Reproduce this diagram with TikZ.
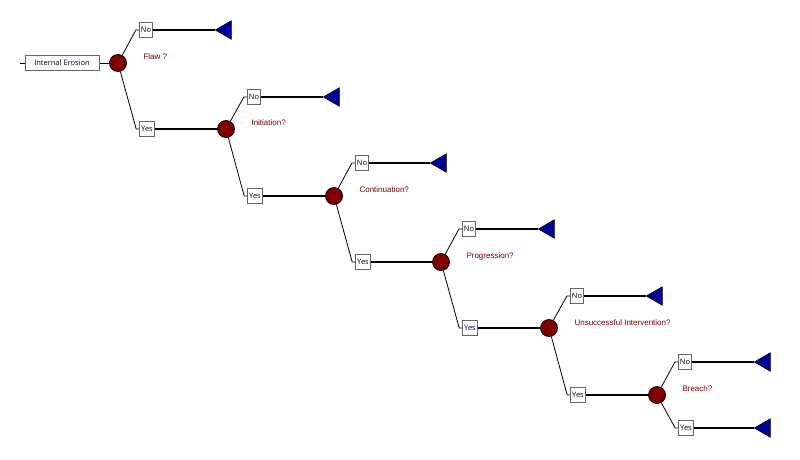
\documentclass[tikz,border=0pt]{standalone}
\usetikzlibrary{shapes.geometric}
\usepackage{fontspec}
\setmainfont{Liberation Sans}
\newfontfamily\boxfont{Open Sans}
\begin{document}
\begin{tikzpicture}[x=1pt,y=-1pt,
  lbl/.style={draw=gray!80!black,line width=1pt,fill=white,inner sep=1.5pt,minimum height=15pt,font=\boxfont\fontsize{7.5}{9}\selectfont,text=black!85!blue},
  chance/.style={circle,draw=black,fill=red!50!black,minimum size=17pt,inner sep=0pt,line width=0.8pt},
  term/.style={isosceles triangle,shape border rotate=180,isosceles triangle apex angle=60,draw=black,fill=blue!60!black,minimum height=16pt,inner sep=0pt,line width=0.6pt},
  q/.style={font=\fontsize{8}{10}\selectfont,text=red!45!black,anchor=west},
  br/.style={line width=0.8pt}]
\useasboundingbox (0,0) rectangle (800,459);
\node[lbl,minimum width=74pt] (root) at (62,63) {Internal Erosion};
\coordinate (stub) at (20,63);
\draw[br] (stub) -- (root.west);
\node[chance] (c1) at (118,63) {};
\draw[br] (root.east) -- (c1);
\node[q] (q1) at (140,57) {Flaw ?};
\node[lbl] (n1) at (146,30) {No};
\node[term] (t1) at (226,30) {};
\node[lbl] (y1) at (147,129) {Yes};
\node[chance] (c2) at (226,129) {};
\node[q] (q2) at (248,123) {Initiation?};
\node[lbl] (n2) at (254,97) {No};
\node[term] (t2) at (334,97) {};
\node[lbl] (y2) at (255,196) {Yes};
\node[chance] (c3) at (334,196) {};
\node[q] (q3) at (356,190) {Continuation?};
\node[lbl] (n3) at (362,163) {No};
\node[term] (t3) at (441,163) {};
\node[lbl] (y3) at (363,262) {Yes};
\node[chance] (c4) at (441,262) {};
\node[q] (q4) at (463,256) {Progression?};
\node[lbl] (n4) at (469,229) {No};
\node[term] (t4) at (549,229) {};
\node[lbl] (y4) at (470,328) {Yes};
\node[chance] (c5) at (549,328) {};
\node[q] (q5) at (571,323) {Unsuccessful Intervention?};
\node[lbl] (n5) at (577,296) {No};
\node[term] (t5) at (657,296) {};
\node[lbl] (y5) at (578,395) {Yes};
\node[chance] (c6) at (657,395) {};
\node[q] (q6) at (679,389) {Breach?};
\node[lbl] (n6) at (685,362) {No};
\node[term] (t6) at (765,362) {};
\node[lbl] (y6) at (686,428) {Yes};
\node[term] (t7) at (765,428) {};
\foreach \c/\n/\y/\t/\nx in {c1/n1/y1/t1/c2,c2/n2/y2/t2/c3,c3/n3/y3/t3/c4,c4/n4/y4/t4/c5,c5/n5/y5/t5/c6}{
  \draw[br] (\c) -- ([xshift=-3pt]\n.west) -- (\n.west);
  \draw[br] (\c) -- ([xshift=-3pt]\y.west) -- (\y.west);
  \draw[line width=1.2pt] (\n.east) -- (\t.apex);
  \draw[line width=1.2pt] (\y.east) -- (\nx);
}
\draw[br] (c6) -- ([xshift=-3pt]n6.west) -- (n6.west);
\draw[br] (c6) -- ([xshift=-3pt]y6.west) -- (y6.west);
\draw[line width=1.2pt] (n6.east) -- (t6.apex);
\draw[line width=1.2pt] (y6.east) -- (t7.apex);
\end{tikzpicture}
\end{document}
